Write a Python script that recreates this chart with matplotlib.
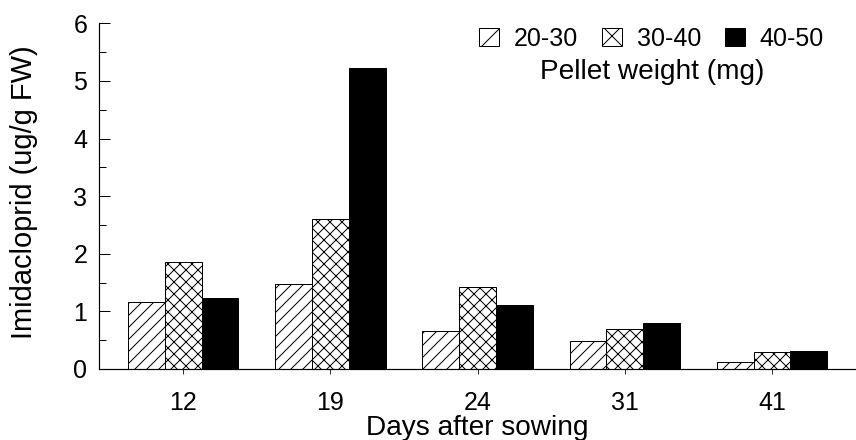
import matplotlib
matplotlib.use("Agg")
import matplotlib.pyplot as plt
from matplotlib.patches import Patch
import numpy as np

# Data
days = ["12", "19", "24", "31", "41"]
weight_classes = ["20-30", "30-40", "40-50"]
conc_20_30 = [1.17, 1.47, 0.66, 0.49, 0.13]
conc_30_40 = [1.85, 2.61, 1.43, 0.69, 0.29]
conc_40_50 = [1.24, 5.23, 1.11, 0.79, 0.32]

series = [conc_20_30, conc_30_40, conc_40_50]
bar_hatches = ["//", "xx", ""]
key_hatches = ["/", "x", ""]
faces = ["white", "white", "black"]

DPI = 72
plt.rcParams["font.family"] = ["Liberation Sans", "DejaVu Sans"]
plt.rcParams["hatch.linewidth"] = 1.0
plt.rcParams["hatch.color"] = "black"

fig = plt.figure(figsize=(856 / DPI, 440 / DPI), dpi=DPI)
ax = fig.add_axes([99.3 / 856, 71 / 440, (856 - 99.3) / 856, (369 - 23.4) / 440])

x = np.arange(len(days))
width = 0.25
for i, (vals, h, fc) in enumerate(zip(series, bar_hatches, faces)):
    ax.bar(x + (i - 1) * width, vals, width, color=fc, edgecolor="black",
           linewidth=1.0, hatch=h, label=weight_classes[i], zorder=2)

ax.set_xlim(-0.57, 4.57)
ax.set_ylim(0, 6)
ax.set_xticks(x)
ax.set_xticklabels(days)
ax.set_yticks(np.arange(0, 7, 1))
ax.set_yticks(np.arange(0.5, 6, 1), minor=True)

ax.tick_params(axis="y", which="major", direction="in", length=11, width=1,
               labelsize=25, pad=12)
ax.tick_params(axis="y", which="minor", direction="in", length=7, width=1)
ax.tick_params(axis="x", which="major", direction="out", length=5, width=0.8,
               labelsize=25, pad=17)

for side in ("top", "right"):
    ax.spines[side].set_visible(False)
for side in ("left", "bottom"):
    ax.spines[side].set_linewidth(1.2)

ax.set_ylabel("Imidacloprid (ug/g FW)", fontsize=29, va="center")
ax.yaxis.set_label_coords(-0.0995, 0.511)
ax.set_xlabel("Days after sowing", fontsize=28, va="center")
ax.xaxis.set_label_coords(0.4998, -0.172)

handles = [Patch(facecolor=fc, edgecolor="black", hatch=h, linewidth=1.0)
           for h, fc in zip(key_hatches, faces)]
fig.legend(handles, weight_classes, loc="center right",
           bbox_to_anchor=(824 / 856, 1 - 39 / 440), ncol=3, frameon=False,
           fontsize=25, handlelength=0.8, handleheight=0.72,
           handletextpad=0.6, columnspacing=0.95, borderpad=0,
           borderaxespad=0)
fig.text(652 / 856, 1 - 72 / 440, "Pellet weight (mg)", fontsize=28,
         ha="center", va="center")

fig.savefig("out.png", dpi=DPI, facecolor="white")
